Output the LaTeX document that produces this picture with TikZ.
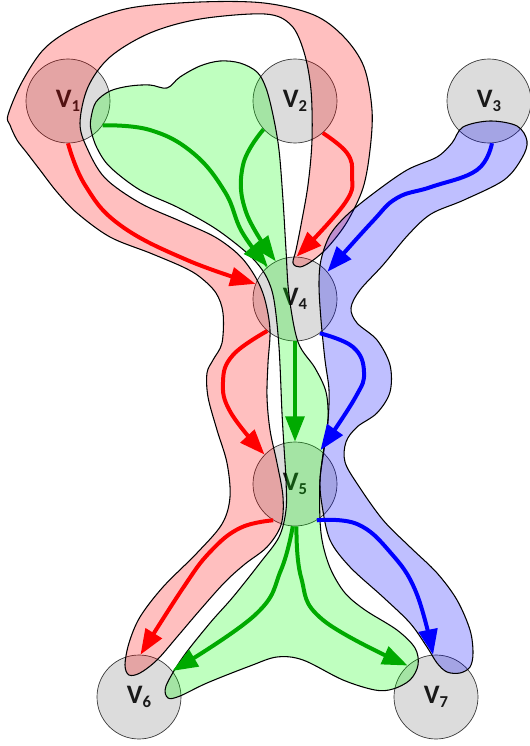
\documentclass[tikz,border=0pt]{standalone}
\usepackage{fontspec}
\setmainfont{Carlito}
\usetikzlibrary{arrows.meta}
\definecolor{vgray}{RGB}{220,220,220}
\definecolor{agreen}{RGB}{0,170,0}
\definecolor{bgreen}{RGB}{0,255,0}
\newcommand{\vlab}[1]{{\fontsize{20}{20}\selectfont\bfseries V}{\fontsize{12.5}{12.5}\selectfont\bfseries\raisebox{-3pt}{#1}}}
\begin{document}
\begin{tikzpicture}[x=0.75pt,y=-0.75pt,
  vtx/.style={circle,draw=black!80,line width=0.5pt,fill=vgray,minimum size=63pt,inner sep=0pt,text=black!90},
  blob/.style={draw=black,line width=0.8pt,fill opacity=0.25},
  arr/.style={line width=3pt,-{Triangle[length=19pt,width=14pt]}}]
\useasboundingbox (0,0) rectangle (529,746);
% vertices
\node[vtx] (v1) at (68,101) {\vlab{1}};
\node[vtx] (v2) at (295,101) {\vlab{2}};
\node[vtx] (v3) at (489,101) {\vlab{3}};
\node[vtx] (v4) at (295,299) {\vlab{4}};
\node[vtx] (v5) at (295,484) {\vlab{5}};
\node[vtx] (v6) at (139,697) {\vlab{6}};
\node[vtx] (v7) at (436,697) {\vlab{7}};
% red hyperedge
\draw[blob,fill=red] plot[smooth cycle,tension=0.55] coordinates {
(8,115) (22,82) (45,48) (80,25) (130,8) (200,2) (264,3) (314,15) (344,37) (364,67) (372,110) (370,150) (363,188) (347,222) (328,247) (312,261) (300,267) (293,263) (296,250) (301,225) (308,185) (312,140) (311,90) (304,52) (291,25) (265,14) (200,19) (150,33) (110,57) (88,87) (80,123) (87,148) (105,178) (140,203) (180,221) (215,237) (240,256) (256,278) (265,300) (270,330) (268,363) (267,397) (270,430) (277,463) (283,497) (281,525) (267,547) (245,564) (225,582) (200,610) (177,637) (157,660) (140,673) (129,675) (125,665) (129,643) (140,617) (163,587) (197,553) (222,524) (230,497) (227,463) (217,430) (208,397) (207,373) (213,360) (222,343) (223,313) (216,293) (200,277) (183,267) (150,253) (110,237) (77,213) (57,192) (40,170) (27,153) (17,140) (10,125)};
% green hyperedge
\draw[blob,fill=bgreen] plot[smooth cycle,tension=0.55] coordinates {
(91,118) (96,102) (110,91) (130,86) (150,85) (167,88) (180,77) (200,66) (220,61) (240,63) (257,72) (266,88) (273,115) (279,150) (283,200) (286,250) (289,295) (298,342) (315,368) (326,392) (328,420) (324,450) (320,480) (320,520) (323,545) (331,570) (345,593) (365,610) (397,630) (415,648) (418,665) (410,680) (393,689) (375,690) (343,680) (303,660) (277,657) (250,666) (207,683) (180,696) (168,698) (166,686) (183,657) (210,623) (233,597) (260,563) (279,537) (286,510) (286,480) (284,447) (282,413) (279,347) (274,300) (267,278) (256,262) (240,247) (213,227) (177,207) (140,190) (110,167) (97,148) (91,130)};
% blue hyperedge
\draw[blob,fill=blue] plot[smooth cycle,tension=0.55] coordinates {
(452,143) (463,127) (490,121) (517,126) (527,141) (522,158) (504,180) (464,200) (431,214) (408,235) (383,265) (360,290) (351,308) (357,323) (377,340) (390,365) (390,392) (377,413) (357,427) (346,442) (345,462) (358,485) (383,520) (410,547) (437,573) (457,600) (470,630) (473,653) (470,667) (460,673) (447,672) (437,663) (427,647) (410,623) (383,597) (350,567) (330,540) (322,505) (320,480) (324,447) (328,420) (329,390) (325,360) (321,320) (319,285) (321,260) (330,235) (347,215) (374,193) (407,170) (437,157)};
% red arrows
\draw[arr,red] plot[smooth,tension=0.7] coordinates {(v1.-90) (85,185) (120,225) (187,260) (v4.159)};
\draw[arr,red] plot[smooth,tension=0.7] coordinates {(v2.-49) (347,153) (352,175) (345,203) (v4.88)};
\draw[arr,red] plot[smooth,tension=0.7] coordinates {(v4.-131) (233,355) (223,382) (231,413) (v5.136)};
\draw[arr,red] plot[smooth,tension=0.7] coordinates {(v5.-121) (240,528) (210,552) (183,588) (v6.88)};
% green arrows
\draw[arr,agreen] plot[smooth,tension=0.7] coordinates {(v1.-35) (150,130) (193,153) (225,192) (242,232) (v4.130)};
\draw[arr,agreen] plot[smooth,tension=0.7] coordinates {(v2.-138) (243,165) (246,212) (v4.117)};
\draw[arr,agreen] (v4.south) -- (v5.north);
\draw[arr,agreen] plot[smooth,tension=0.7] coordinates {(v5.-93) (281,570) (255,615) (v6.38)};
\draw[arr,agreen] plot[smooth,tension=0.7] coordinates {(v5.-88) (301,577) (323,620) (v7.132)};
% blue arrows
\draw[arr,blue] plot[smooth,tension=0.7] coordinates {(v3.-86) (477,170) (431,187) (397,198) (372,222) (v4.40)};
\draw[arr,blue] plot[smooth,tension=0.7] coordinates {(v4.-54) (353,347) (364,372) (355,398) (v5.53)};
\draw[arr,blue] plot[smooth,tension=0.7] coordinates {(v5.-59) (357,524) (390,552) (416,592) (v7.94)};
\end{tikzpicture}
\end{document}
